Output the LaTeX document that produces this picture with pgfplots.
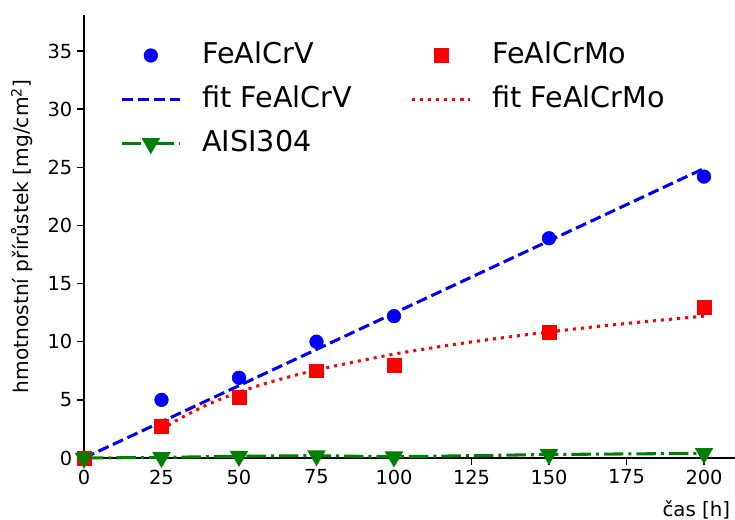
\documentclass[border=0pt]{standalone}
\usepackage{fontspec}
\setmainfont{DejaVu Sans}
\usepackage{pgfplots}
\pgfplotsset{compat=1.18}
\definecolor{mplgreen}{RGB}{0,128,0}
\pgfplotsset{myleg/.style={legend image code/.code={\draw[mark repeat=2,mark phase=2,##1] plot coordinates {(0bp,0bp)(20.9bp,0bp)(41.8bp,0bp)};}}}
\begin{document}
\begin{tikzpicture}
\useasboundingbox (-60.48bp,-44.64bp) rectangle (468.72bp,329.76bp);
\begin{axis}[
  at={(0,0)}, anchor=south west,
  scale only axis, width=468.72bp, height=318.96bp,
  xmin=0, xmax=210, ymin=0, ymax=38.1,
  clip=false,
  axis x line=bottom, axis y line=left,
  axis line style={-, line width=1bp, black},
  tick align=outside, major tick length=5bp,
  tick style={line width=1bp, black},
  xtick={0,25,...,200}, ytick={0,5,...,35},
  tick label style={font=\fontsize{14}{16}\selectfont},
  /pgf/number format/assume math mode=true,
  ylabel={hmotnostní přírůstek [mg/cm\textsuperscript{2}]},
  ylabel style={font=\fontsize{14.6}{16}\selectfont, at={(axis description cs:-0.095,0.5)}, anchor=center},
  xlabel={čas [h]},
  xlabel style={font=\fontsize{14.3}{16}\selectfont, at={(axis description cs:1,0)}, anchor=east, yshift=-37.4bp},
  legend cell align=left,
  legend columns=2,
  legend style={draw=none, fill=none, inner sep=0pt,
    at={(axis description cs:0.0553,0.939)}, anchor=north west,
    font=\fontsize{20.7}{24}\selectfont,
    nodes={inner sep=0pt, text height=15bp, text depth=4bp},
    row sep=12.7bp,
    /tikz/every odd column/.append style={column sep=15bp},
    /tikz/every even column/.append style={column sep=42bp}},
]
\addplot[only marks, mark=*, blue, mark size=4.9bp, myleg] coordinates {(0,0)(25,5.0)(50,6.9)(75,10.0)(100,12.2)(150,18.9)(200,24.2)};
\addlegendentry{FeAlCrV}
\addplot[only marks, mark=square*, red, mark size=5bp, myleg] coordinates {(0,0)(25,2.75)(50,5.2)(75,7.5)(100,8.0)(150,10.8)(200,13.0)};
\addlegendentry{FeAlCrMo}
\addplot[blue, line width=2.2bp, dash pattern=on 8bp off 3.5bp, no marks, myleg] coordinates {(0,0)(200,24.9)};
\addlegendentry{fit FeAlCrV}
\addplot[red, line width=2.2bp, dash pattern=on 2.2bp off 3.6bp, no marks, smooth, myleg] coordinates {(25,2.4)(30,3.26)(40,4.61)(50,5.66)(60,6.52)(75,7.57)(100,8.93)(125,9.98)(150,10.84)(175,11.57)(200,12.2)};
\addlegendentry{fit FeAlCrMo}
\addplot[mplgreen, line width=2.2bp, dash pattern=on 14bp off 3.6bp on 2.2bp off 3.6bp, mark=triangle*, mark size=5.5bp, mark options={solid, rotate=180}, myleg] coordinates {(0,0)(25,0.05)(50,0.15)(75,0.2)(100,0.1)(150,0.3)(200,0.4)};
\addlegendentry{AISI304}
\end{axis}
\end{tikzpicture}
\end{document}
